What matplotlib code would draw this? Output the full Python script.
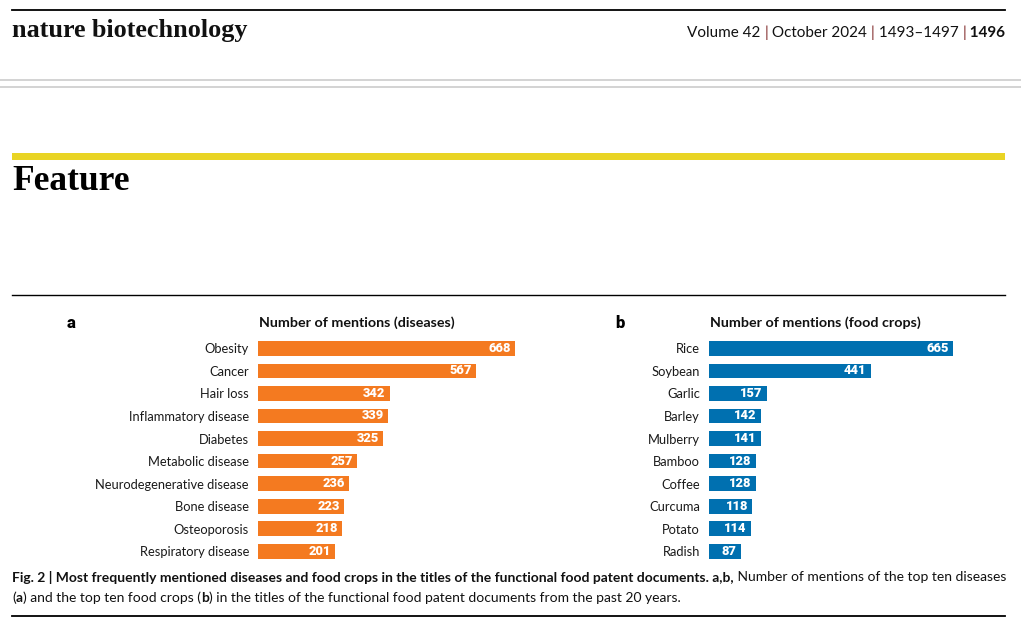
import matplotlib
matplotlib.use("Agg")
import matplotlib.pyplot as plt
from matplotlib.lines import Line2D
from matplotlib.patches import Rectangle

# data
diseases = ["Obesity", "Cancer", "Hair loss", "Inflammatory disease", "Diabetes",
            "Metabolic disease", "Neurodegenerative disease", "Bone disease",
            "Osteoporosis", "Respiratory disease"]
disease_counts = [668, 567, 342, 339, 325, 257, 236, 223, 218, 201]

crops = ["Rice", "Soybean", "Garlic", "Barley", "Mulberry", "Bamboo", "Coffee",
         "Curcuma", "Potato", "Radish"]
crop_counts = [665, 441, 157, 142, 141, 128, 128, 118, 114, 87]

ORANGE = "#F47A20"
BLUE = "#0070B0"
YELLOW = "#E9D424"
SANS = "Lato"
HEAVY = "Roboto"

W, H, DPI = 1021, 629, 100
fig = plt.figure(figsize=(W / DPI, H / DPI), dpi=DPI)
fig.patch.set_facecolor("white")
renderer = fig.canvas.get_renderer()


def fx(x):
    return x / W


def fy(y):
    return 1 - y / H


def hline(x0, x1, y, color="black", lw=1.0):
    fig.add_artist(Line2D([fx(x0), fx(x1)], [fy(y), fy(y)], color=color, lw=lw))


def text_width(s, **kw):
    # width in px, measured with a bar glyph so trailing spaces count
    t1 = fig.text(0, 0, s + "|", **kw)
    t2 = fig.text(0, 0, "|", **kw)
    w = t1.get_window_extent(renderer).width - t2.get_window_extent(renderer).width
    t1.remove()
    t2.remove()
    return w


def runs(parts, x, y, ha="left", **common):
    widths = [text_width(s, **{**common, **kw}) for s, kw in parts]
    if ha == "right":
        x = x - sum(widths)
    for (s, kw), w in zip(parts, widths):
        fig.text(fx(x), fy(y), s, ha="left", va="center", **{**common, **kw})
        x += w


# header
hline(12, 1005, 10, lw=1.3)
fig.text(fx(12), fy(30), "nature biotechnology", family="Liberation Serif",
         weight="bold", fontsize=18.8, ha="left", va="center", color="#111111")
pipe = {"color": "#7a1f1f"}
runs([("Volume 42 ", {}), ("|", pipe), (" October 2024 ", {}), ("|", pipe),
      (" 1493–1497 ", {}), ("|", pipe), (" 1496", {"weight": "bold"})],
     1005, 33, ha="right", family=SANS, fontsize=11, color="#111111")
hline(0, W, 80, color="#cccccc", lw=1.2)
hline(0, W, 87, color="#cccccc", lw=1.2)

fig.add_artist(Rectangle((fx(12), fy(160)), fx(1005) - fx(12), fy(153) - fy(160),
                         transform=fig.transFigure, color=YELLOW, lw=0))
fig.text(fx(12), fy(181), "Feature", family="Liberation Serif", weight="bold",
         fontsize=25.5, ha="left", va="center", color="black")

hline(12, 1005, 295, lw=1.0)


def bar_panel(left_px, scale, names, counts, color, letter, letter_x, title):
    xmax = 700
    top, row = 337.0, 22.56
    ax = fig.add_axes([fx(left_px), fy(top + 10 * row), xmax * scale / W, 10 * row / H])
    pos = list(range(len(names)))
    ax.barh(pos, counts, height=0.65, color=color, left=0)
    ax.set_xlim(0, xmax)
    ax.set_ylim(len(names) - 0.5, -0.5)
    ax.set_yticks(pos)
    ax.set_yticklabels(names, family=SANS, fontsize=9.3, color="#1a1a1a")
    ax.tick_params(axis="y", length=0, pad=6.5)
    ax.set_xticks([])
    for s in ax.spines.values():
        s.set_visible(False)
    for i, v in enumerate(counts):
        ax.annotate(str(v), (v, i), xytext=(-3, 0), textcoords="offset points",
                    ha="right", va="center", color="white", family=HEAVY,
                    weight="black", fontsize=9.3)
    fig.text(fx(letter_x), fy(323), letter, family=HEAVY, weight="black",
             fontsize=12, ha="left", va="center")
    fig.text(fx(left_px + 1), fy(323), title, family=SANS, weight="bold",
             fontsize=10.3, ha="left", va="center", color="#111111")
    return ax


bar_panel(258, 0.3847, diseases, disease_counts, ORANGE, "a", 67,
          "Number of mentions (diseases)")
bar_panel(709, 0.3665, crops, crop_counts, BLUE, "b", 615,
          "Number of mentions (food crops)")

# caption
cap = dict(family=SANS, fontsize=10.0, color="#111111")
B = {"weight": "bold"}
runs([("Fig. 2 | Most frequently mentioned diseases and food crops in the titles of the "
       "functional food patent documents. a,b,", B),
      (" Number of mentions of the top ten diseases", {})], 12, 577, **cap)
runs([("(", {}), ("a", B), (") and the top ten food crops (", {}), ("b", B),
      (") in the titles of the functional food patent documents from the past 20 years.", {})],
     12, 598, **cap)
hline(12, 1005, 616, lw=1.3)

fig.savefig("out.png", dpi=DPI, facecolor="white")
